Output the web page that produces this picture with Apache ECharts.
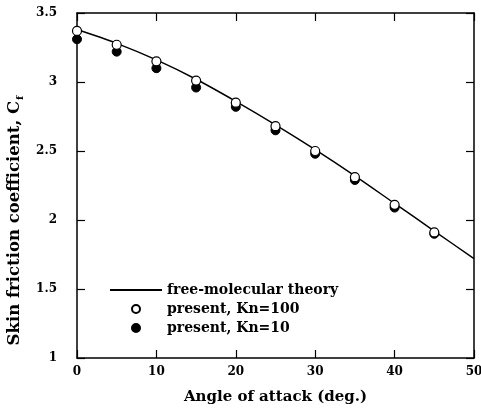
<!DOCTYPE html>
<html lang="en">
<head>
    <meta charset="UTF-8">
    <title>Skin friction coefficient</title>
    <script src="https://cdn.jsdelivr.net/npm/echarts@6/dist/echarts.min.js"></script>
    <style>
        html, body {margin: 0; padding: 0; background: #fff;}
    </style>
</head>
<body>
<div id="main" style="width: 481px;height: 419px;"></div>

<script type="text/javascript">
    // angle of attack (deg.)
    var angles = [0, 5, 10, 15, 20, 25, 30, 35, 40, 45];
    var theoryAngles = [0, 5, 10, 15, 20, 25, 30, 35, 40, 45, 50];
    // free-molecular theory curve
    var theoryCf = [3.38, 3.28, 3.16, 3.02, 2.86, 2.69, 2.51, 2.32, 2.12, 1.92, 1.72];
    // present, Kn=100 (open circles)
    var kn100 = [3.37, 3.27, 3.15, 3.01, 2.85, 2.68, 2.50, 2.31, 2.11, 1.91];
    // present, Kn=10 (filled circles)
    var kn10 = [3.31, 3.22, 3.10, 2.96, 2.82, 2.65, 2.48, 2.29, 2.09, 1.90];

    function pairs(xs, ys) {
        var out = [];
        for (var i = 0; i < ys.length; i++) {
            out.push([xs[i], ys[i]]);
        }
        return out;
    }

    var font = 'DejaVu Serif';
    var myChart = echarts.init(document.getElementById('main'));

    function axisCommon() {
        return {
            axisLine: {show: true, onZero: false, lineStyle: {color: '#000', width: 1.5}},
            axisTick: {show: true, inside: true, length: 8, lineStyle: {color: '#000', width: 1.2}},
            splitLine: {show: false}
        };
    }

    var option = {
        animation: false,
        // keep the plot box fixed even though the "50" label touches the edge
        grid: {left: 77, right: 7, top: 13, bottom: 61, outerBoundsMode: 'none'},
        legend: {
            orient: 'vertical',
            left: 104,
            top: 278,
            itemWidth: 52,
            itemHeight: 8,
            itemGap: 5,
            textStyle: {fontFamily: font, fontWeight: 'bold', fontSize: 14, color: '#000'},
            data: ['free-molecular theory', 'present, Kn=100', 'present, Kn=10']
        },
        xAxis: [
            echarts.util.merge({
                type: 'value', min: 0, max: 50, interval: 10,
                name: 'Angle of attack (deg.)',
                nameLocation: 'middle',
                nameGap: 32,
                nameTextStyle: {fontFamily: font, fontWeight: 'bold', fontSize: 15, color: '#000'},
                axisLabel: {margin: 8, fontFamily: font, fontWeight: 'bold', fontSize: 12, color: '#000'}
            }, axisCommon()),
            echarts.util.merge({
                type: 'value', min: 0, max: 50, interval: 10, position: 'top',
                axisLabel: {show: false}
            }, axisCommon())
        ],
        yAxis: [
            echarts.util.merge({
                type: 'value', min: 1, max: 3.5, interval: 0.5,
                name: '{a|Skin friction coefficient, C}{b|f}',
                nameLocation: 'middle',
                nameGap: 47,
                nameTextStyle: {
                    padding: [0, 70, 0, 0],
                    rich: {
                        a: {fontFamily: font, fontWeight: 'bold', fontSize: 16.5, color: '#000', verticalAlign: 'top', lineHeight: 18},
                        b: {fontFamily: font, fontWeight: 'bold', fontSize: 10, color: '#000', padding: [11, 0, 0, 1], lineHeight: 11}
                    }
                },
                axisLabel: {margin: 20, fontFamily: font, fontWeight: 'bold', fontSize: 12, color: '#000'}
            }, axisCommon()),
            echarts.util.merge({
                type: 'value', min: 1, max: 3.5, interval: 0.5, position: 'right',
                axisLabel: {show: false}
            }, axisCommon())
        ],
        series: [
            {
                name: 'free-molecular theory',
                type: 'line',
                smooth: 0.3,
                symbol: 'none',
                // transparent item colour hides the dot on the legend line
                itemStyle: {color: 'rgba(0,0,0,0)', borderWidth: 0},
                lineStyle: {color: '#000', width: 1.5},
                z: 2,
                data: pairs(theoryAngles, theoryCf)
            },
            {
                name: 'present, Kn=10',
                type: 'scatter',
                symbol: 'circle',
                symbolSize: 9,
                itemStyle: {color: '#000', borderColor: '#000', borderWidth: 1, opacity: 1},
                z: 3,
                data: pairs(angles, kn10)
            },
            {
                name: 'present, Kn=100',
                type: 'scatter',
                symbol: 'circle',
                symbolSize: 9,
                itemStyle: {color: '#fff', borderColor: '#000', borderWidth: 1.2, opacity: 1},
                z: 4,
                data: pairs(angles, kn100)
            }
        ]
    };

    myChart.setOption(option);
</script>
</body>
</html>
